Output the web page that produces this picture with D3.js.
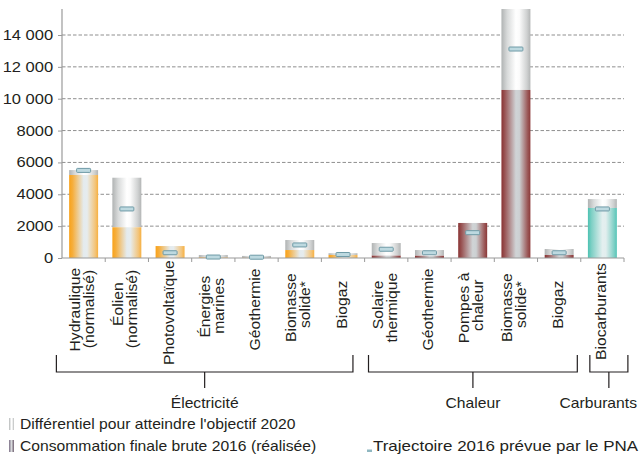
<!DOCTYPE html>
<html><head><meta charset="utf-8">
<script src="https://cdn.jsdelivr.net/npm/d3@7"></script>
<style>
html,body{margin:0;padding:0;background:#fff;}
svg{display:block;font-family:"Liberation Sans",Arial,Helvetica,sans-serif;}
</style>
</head><body>
<svg id="chart" width="644" height="454"></svg>
<script>
// ---- data ----
const categories = ["Hydraulique\n(normalisé)","Éolien\n(normalisé)","Photovoltaïque","Énergies\nmarines","Géothermie","Biomasse\nsolide*","Biogaz",
  "Solaire\nthermique","Géothermie","Pompes à\nchaleur","Biomasse\nsolide*","Biogaz","Biocarburants"];
const sectors = ["elec","elec","elec","elec","elec","elec","elec","heat","heat","heat","heat","heat","fuel"];
const realized2016   = [5210,1930,750,40,10,500,190,150,140,2200,10550,190,3140];
const objective2020  = [5520,5040,750,190,130,1130,300,940,500,2200,15900,565,3700];
const trajectory2016 = [5500,3080,330,60,50,820,220,550,330,1590,13120,330,3080];
const yTicks = [0,2000,4000,6000,8000,10000,12000,14000];
const yTickLabels = ["0","2000","4000","6000","8000","10 000","12 000","14 000"];
const groups = [
  {name:"Électricité", from:-0.13, to:6.73},
  {name:"Chaleur", from:7.09, to:11.92},
  {name:"Carburants", from:12.21, to:13.09}
];
const legendLabels = ["Différentiel pour atteindre l'objectif 2020","Consommation finale brute 2016 (réalisée)","Trajectoire 2016 prévue par le PNA"];

// ---- layout ----
const W = 644, H = 454;
const left = 62, right = 624, bottom = 258, plotTop = 9;
const TEXT = "#231f20", AXIS = "#9a9a9a";
const SX = 1.12;

const svg = d3.select("#chart");
const defs = svg.append("defs");
function grad(id, stops){
  const g = defs.append("linearGradient").attr("id", id).attr("x1",0).attr("x2",1).attr("y1",0).attr("y2",0);
  stops.forEach(s => g.append("stop").attr("offset", s[0]).attr("stop-color", s[1]));
}
grad("g-elec", [[0,"#f8a21a"],[0.12,"#f6ae3c"],[0.5,"#e4ebee"],[0.62,"#e6ecee"],[0.9,"#f3c47a"],[1,"#f7b040"]]);
grad("g-heat", [[0,"#893333"],[0.12,"#9a5656"],[0.5,"#d0d4d6"],[0.62,"#ccd0d2"],[0.9,"#9c5a5a"],[1,"#8b3838"]]);
grad("g-fuel", [[0,"#4dc2b2"],[0.12,"#7ccfc4"],[0.5,"#e3efef"],[0.62,"#e2eeee"],[0.9,"#7fd0c6"],[1,"#55c5b7"]]);
grad("g-gap",  [[0,"#b0b3b3"],[0.2,"#d8dada"],[0.5,"#ffffff"],[0.62,"#fbfbfb"],[0.88,"#cfd1d1"],[1,"#b3b5b5"]]);
grad("g-leg2", [[0,"#7c6f86"],[0.5,"#d8dadc"],[1,"#6f5f70"]]);

const x = d3.scaleBand().domain(d3.range(categories.length)).range([left,right]).paddingInner(0.33).paddingOuter(0.165);
const y = d3.scaleLinear().domain([0,14000]).range([bottom,35]);
const yc = v => Math.max(y(v), plotTop);
const pos = i => left + i * x.step();

// gridlines
svg.append("g").selectAll("line").data(yTicks.filter(d => d > 0)).join("line")
  .attr("x1", left).attr("x2", right).attr("y1", d => y(d)).attr("y2", d => y(d))
  .attr("stroke", "#8f8f8f").attr("stroke-width", 1).attr("stroke-dasharray", "3.5,2");

// y axis
const yAxis = svg.append("g").attr("transform", `translate(${left},0)`)
  .call(d3.axisLeft(y).tickValues(yTicks).tickFormat((d,i) => yTickLabels[i]).tickSize(4).tickPadding(3.5));
yAxis.select(".domain").remove();
yAxis.selectAll(".tick line").attr("stroke", AXIS);
yAxis.selectAll(".tick text").attr("fill", TEXT).attr("font-size", 14)
  .attr("font-family", '"Liberation Sans",Arial,sans-serif').attr("transform", "scale(1.18,1)");
svg.append("line").attr("x1", left).attr("x2", left).attr("y1", plotTop).attr("y2", bottom)
  .attr("stroke", AXIS).attr("stroke-width", 1.2);

// bars
const bars = svg.append("g");
categories.forEach((c, i) => {
  const bx = x(i), bw = x.bandwidth();
  if (objective2020[i] > realized2016[i]) {
    bars.append("rect").attr("x", bx).attr("width", bw)
      .attr("y", yc(objective2020[i])).attr("height", y(realized2016[i]) - yc(objective2020[i]))
      .attr("fill", "url(#g-gap)");
  }
  bars.append("rect").attr("x", bx).attr("width", bw)
    .attr("y", yc(realized2016[i])).attr("height", bottom - yc(realized2016[i]))
    .attr("fill", `url(#g-${sectors[i]})`);
});

// x axis
svg.append("line").attr("x1", left).attr("x2", right).attr("y1", bottom).attr("y2", bottom)
  .attr("stroke", AXIS).attr("stroke-width", 1.2);
svg.append("g").selectAll("line").data(d3.range(1, categories.length + 1)).join("line")
  .attr("x1", d => pos(d)).attr("x2", d => pos(d)).attr("y1", bottom).attr("y2", bottom + 4)
  .attr("stroke", AXIS).attr("stroke-width", 1);

// trajectory markers
svg.append("g").selectAll("rect").data(trajectory2016).join("rect")
  .attr("x", (d,i) => x(i) + x.bandwidth()/2 - 7).attr("width", 14)
  .attr("y", d => y(d) - 2).attr("height", 4).attr("rx", 0.8)
  .attr("fill", "#bdd9e0").attr("stroke", "#6e9aa6").attr("stroke-width", 1);

// category labels (rotated, stacked lines)
const labG = svg.append("g").attr("fill", TEXT).attr("font-size", 14);
categories.forEach((c, i) => {
  const lines = c.split("\n");
  const g = labG.append("g")
    .attr("transform", `translate(${x(i) + x.bandwidth()/2},307) rotate(-90) scale(${SX},1)`);
  lines.forEach((ln, k) => {
    const t = g.append("text").attr("text-anchor", "middle")
      .attr("y", (k - (lines.length - 1)/2) * 14 + 3.5).text(ln);
    const len = t.node().getComputedTextLength() * SX;
    t.attr("x", (9 - 0.14 * len) / SX);
  });
});

// group brackets
const brG = svg.append("g");
groups.forEach(gr => {
  const x0 = pos(gr.from), x1 = pos(gr.to), xm = (x0 + x1)/2;
  brG.append("path").attr("d", `M${x0},355V372H${x1}V355M${xm},372V388`)
    .attr("fill", "none").attr("stroke", TEXT).attr("stroke-width", 1.2);
  const t = brG.append("text").attr("text-anchor", "middle").attr("font-size", 14).attr("fill", TEXT).text(gr.name);
  const half = t.node().getComputedTextLength() * SX / 2;
  const cx = Math.min(xm, W - 7 - half);
  t.attr("transform", `translate(${cx},408) scale(${SX},1)`);
});

// legend
const lg = svg.append("g").attr("font-size", 14).attr("fill", TEXT);
lg.append("rect").attr("x", 9).attr("y", 418).attr("width", 5).attr("height", 12).attr("fill", "url(#g-gap)");
lg.append("rect").attr("x", 9).attr("y", 440).attr("width", 5).attr("height", 12).attr("fill", "url(#g-leg2)");
lg.append("rect").attr("x", 367).attr("y", 449.5).attr("width", 5).attr("height", 2.5).attr("fill", "#8fb7c1");
lg.append("text").attr("transform", `translate(20,429) scale(${SX},1)`).text(legendLabels[0]);
lg.append("text").attr("transform", `translate(20,451) scale(${SX},1)`).text(legendLabels[1]);
lg.append("text").attr("font-size", 14.5).attr("transform", `translate(373,451) scale(1.17,1)`).text(legendLabels[2]);
</script>
</body></html>
